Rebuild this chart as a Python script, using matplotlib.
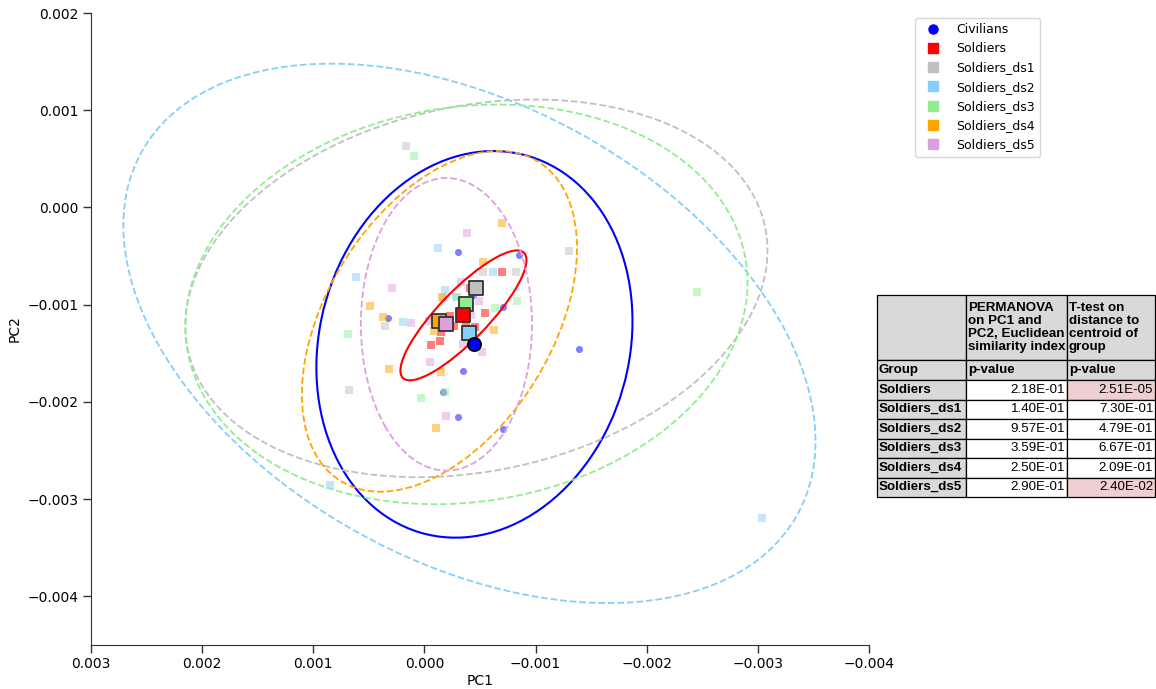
import numpy as np
import matplotlib.pyplot as plt
import matplotlib.transforms as transforms
from matplotlib.patches import Ellipse
from matplotlib.lines import Line2D
from matplotlib.ticker import FuncFormatter

groups = ['Civilians', 'Soldiers', 'Soldiers_ds1', 'Soldiers_ds2',
          'Soldiers_ds3', 'Soldiers_ds4', 'Soldiers_ds5']
colors = ['blue', 'red', 'silver', 'lightskyblue', 'lightgreen', 'orange', 'plum']

# individual samples (PC1, PC2)
civilians_pc1 = [-0.000306, -0.000855, -0.000441, -0.000711, 0.000324, -0.001395,
                 -0.000351, -0.000171, -0.000306, -0.000711]
civilians_pc2 = [-0.000462, -0.000493, -0.000904, -0.001027, -0.001140, -0.001459,
                 -0.001685, -0.001901, -0.002158, -0.002281]
soldiers_pc1 = [-0.000702, -0.000414, -0.000549, -0.000459, -0.000234, -0.000270,
                -0.000153, -0.000144, -0.000063, -0.000378]
soldiers_pc2 = [-0.000668, -0.000832, -0.001089, -0.001233, -0.001120, -0.001223,
                -0.001284, -0.001377, -0.001418, -0.001182]
ds1_pc1 = [0.000162, -0.000531, -0.000828, -0.001305, 0.000351, 0.000675, -0.000171]
ds1_pc2 = [0.000637, -0.000668, -0.000668, -0.000452, -0.001223, -0.001880, -0.000935]
ds2_pc1 = [-0.000126, 0.000612, -0.000621, -0.000189, 0.000189, -0.000288, 0.000846, -0.003033]
ds2_pc2 = [-0.000421, -0.000719, -0.000668, -0.000853, -0.001182, -0.000925, -0.002856, -0.003195]
ds3_pc1 = [0.000090, 0.000684, -0.000639, -0.000837, -0.000297, -0.002448, 0.000027, -0.000189]
ds3_pc2 = [0.000534, -0.001305, -0.001038, -0.000966, -0.000925, -0.000873, -0.001962, -0.001901]
ds4_pc1 = [-0.000702, -0.000531, 0.000486, 0.000369, -0.000090, -0.000630, -0.000162,
           0.000315, -0.000153, -0.000108]
ds4_pc2 = [-0.000164, -0.000565, -0.001017, -0.001130, -0.001274, -0.001264, -0.000925,
           -0.001664, -0.001695, -0.002271]
ds5_pc1 = [-0.000387, 0.000288, 0.000117, -0.000333, -0.000423, -0.000495, -0.000351,
           -0.000054, -0.000045, -0.000198, -0.000522]
ds5_pc2 = [-0.000267, -0.000832, -0.001192, -0.000771, -0.001110, -0.000966, -0.001408,
           -0.001592, -0.001171, -0.002147, -0.001490]

# group centroids
centroid_pc1 = [-0.000450, -0.000351, -0.000468, -0.000405, -0.000378, -0.000135, -0.000198]
centroid_pc2 = [-0.001408, -0.001110, -0.000832, -0.001295, -0.000997, -0.001171, -0.001202]

# ellipse half extents and correlation
ell_sd1 = [0.001422, 0.000567, 0.002619, 0.003114, 0.002529, 0.001238, 0.000770]
ell_sd2 = [0.001988, 0.000668, 0.001942, 0.002774, 0.002055, 0.001752, 0.001505]
ell_rho = [-0.12, -0.85, -0.20, 0.40, -0.11, -0.43, 0.0]

# table
table_groups = ['Soldiers', 'Soldiers_ds1', 'Soldiers_ds2', 'Soldiers_ds3',
                'Soldiers_ds4', 'Soldiers_ds5']
permanova_p = ['2.18E-01', '1.40E-01', '9.57E-01', '3.59E-01', '2.50E-01', '2.90E-01']
ttest_p = ['2.51E-05', '7.30E-01', '4.79E-01', '6.67E-01', '2.09E-01', '2.40E-02']
significant = [True, False, False, False, False, True]

pc1_all = [civilians_pc1, soldiers_pc1, ds1_pc1, ds2_pc1, ds3_pc1, ds4_pc1, ds5_pc1]
pc2_all = [civilians_pc2, soldiers_pc2, ds1_pc2, ds2_pc2, ds3_pc2, ds4_pc2, ds5_pc2]


def draw_ellipse(ax, cx, cy, s1, s2, rho, **kw):
    e = Ellipse((0, 0), width=2 * np.sqrt(1 + rho), height=2 * np.sqrt(1 - rho),
                facecolor='none', **kw)
    tr = transforms.Affine2D().rotate_deg(45).scale(s1, s2).translate(cx, cy)
    e.set_transform(tr + ax.transData)
    ax.add_patch(e)


def fmt(v, pos):
    s = '%.3f' % v
    if s == '-0.000':
        s = '0.000'
    return s.replace('-', '\u2212')


fig = plt.figure(figsize=(11.56, 6.89), dpi=100)
ax = fig.add_axes([91 / 1156, 1 - 645 / 689, 778 / 1156, 632 / 689])

for i, g in enumerate(groups):
    mk = 'o' if i == 0 else 's'
    ax.scatter(pc1_all[i], pc2_all[i], s=26, marker=mk, color=colors[i],
               alpha=0.5, linewidths=0, zorder=2)

for i, g in enumerate(groups):
    ls = '-' if i < 2 else '--'
    lw = 1.5 if i < 2 else 1.3
    draw_ellipse(ax, centroid_pc1[i], centroid_pc2[i], ell_sd1[i], ell_sd2[i], ell_rho[i],
                 edgecolor=colors[i], linestyle=ls, linewidth=lw, zorder=3)

order = [2, 4, 1, 3, 5, 6, 0]
for i in order:
    mk = 'o' if i == 0 else 's'
    ec = 'black' if i == 0 else '#333333'
    ax.scatter(centroid_pc1[i], centroid_pc2[i], s=90, marker=mk, color=colors[i],
               edgecolors=ec, linewidths=1.3, zorder=4)

ax.set_xlim(0.003, -0.004)
ax.set_ylim(-0.0045, 0.002)
ax.set_xticks(np.arange(0.003, -0.0041, -0.001))
ax.set_yticks(np.arange(-0.004, 0.0021, 0.001))
ax.xaxis.set_major_formatter(FuncFormatter(fmt))
ax.yaxis.set_major_formatter(FuncFormatter(fmt))
ax.tick_params(labelsize=10, length=6, width=1, color='#333333', pad=3)
ax.set_xlabel('PC1', fontsize=10, labelpad=2)
ax.set_ylabel('PC2', fontsize=10, labelpad=4)
for s in ['top', 'right']:
    ax.spines[s].set_visible(False)
for s in ['left', 'bottom']:
    ax.spines[s].set_color('#333333')

handles = [Line2D([], [], marker='o' if i == 0 else 's', linestyle='', color=colors[i],
                  markersize=6.5, label=g) for i, g in enumerate(groups)]
ax.legend(handles=handles, loc='upper left', bbox_to_anchor=(915 / 1156, 1 - 18 / 689),
          bbox_transform=fig.transFigure, fontsize=9, labelspacing=0.5,
          borderaxespad=0, handletextpad=0.9)

# p-value table
tax = fig.add_axes([877 / 1156, 1 - 497 / 689, 278 / 1156, 202 / 689])
tax.axis('off')
cells = [['', 'PERMANOVA\non PC1 and\nPC2, Euclidean\nsimilarity index',
          'T-test on\ndistance to\ncentroid of\ngroup'],
         ['Group', 'p-value', 'p-value']]
for g, p1, p2 in zip(table_groups, permanova_p, ttest_p):
    cells.append([g, p1, p2])

gray = '#d9d9d9'
pink = '#efd0d0'
cell_colors = [[gray] * 3, [gray] * 3]
for sig in significant:
    cell_colors.append([gray, 'white', pink if sig else 'white'])

tbl = tax.table(cellText=cells, cellColours=cell_colors, bbox=[0, 0, 1, 1],
                colWidths=[89, 101, 88])
tbl.auto_set_font_size(False)
heights = [65, 20] + [19.5] * 6
for (r, c), cell in tbl.get_celld().items():
    cell.set_height(heights[r])
    cell.set_edgecolor('black')
    cell.set_linewidth(0.9)
    t = cell.get_text()
    t.set_fontsize(9.6)
    t.set_fontfamily('Liberation Sans')
    if r < 2 or c == 0:
        t.set_fontweight('bold')
        cell._loc = 'left'
        t.set_horizontalalignment('left')
    else:
        cell._loc = 'right'
        t.set_horizontalalignment('right')
    if r == 0:
        t.set_linespacing(1.12)
    cell.PAD = 0.02

fig.savefig('out.png', dpi=100)
